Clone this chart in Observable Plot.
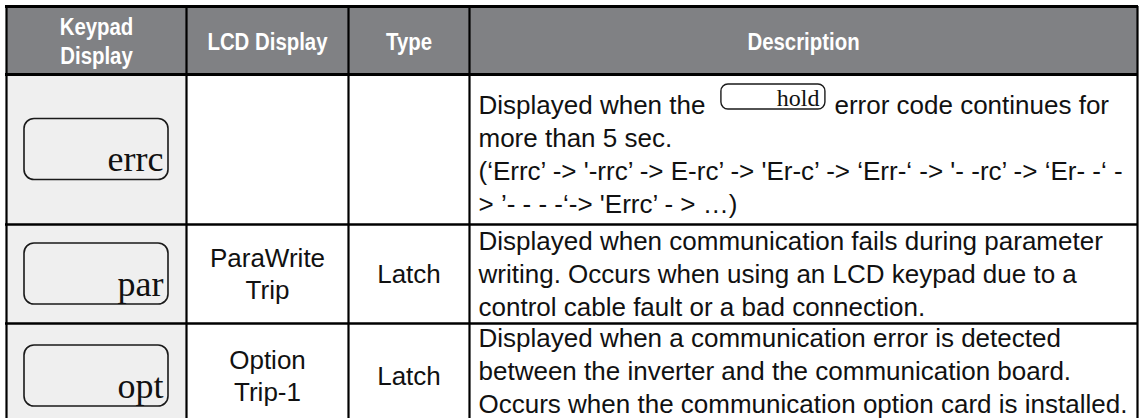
<!DOCTYPE html>
<html>
<head>
<meta charset="utf-8">
<script src="https://cdn.jsdelivr.net/npm/d3@7"></script>
<script src="https://cdn.jsdelivr.net/npm/@observablehq/plot@0.6"></script>
<style>
html, body { margin: 0; padding: 0; background: #ffffff; }
#chart svg { display: block; }
</style>
</head>
<body>
<div id="chart"></div>
<script>
// ---------- table content ----------
const headerLabels = ["Keypad\nDisplay", "LCD Display", "Type", "Description"];
const keypadCodes = ["errc", "par", "opt"];
const lcdDisplay = ["", "ParaWrite\nTrip", "Option\nTrip-1"];
const tripType = ["", "Latch", "Latch"];
const inlineCode = "hold";
const descriptionLines = [
  [
    "Displayed when the {code} error code continues for",
    "more than 5 sec.",
    "(‘Errc’ -> '-rrc’ -> E-rc’ -> 'Er-c’ -> ‘Err-‘ -> '- -rc’ -> ‘Er- -‘ -",
    "> ’- - - -‘-> 'Errc’ - > …)"
  ],
  [
    "Displayed when communication fails during parameter",
    "writing. Occurs when using an LCD keypad due to a",
    "control cable fault or a bad connection."
  ],
  [
    "Displayed when a communication error is detected",
    "between the inverter and the communication board.",
    "Occurs when the communication option card is installed."
  ]
];

// ---------- layout ----------
const W = 1140, H = 418;
const colEdges = [6, 186, 348, 469, 1137];
const headerTop = 6, headerBottom = 74;
const rowEdges = [74, 224, 323, 428];
const descFirstOffset = [39, 25, 23];
const lineStep = 33;
const bodySize = 26;
const headerSqueeze = 0.85;
const sans = `"Liberation Sans", Arial, Helvetica, sans-serif`;
const serif = `"Liberation Serif", "Times New Roman", serif`;
const headerFill = "#808184";
const keyColFill = "#efefef";
const ink = "#111111";

const ctx = document.createElement("canvas").getContext("2d");
ctx.font = `${bodySize}px ${sans}`;
const measure = (s) => ctx.measureText(s).width;

const colMid = (i) => (colEdges[i] + colEdges[i + 1]) / 2;
const rowMid = (r) => (rowEdges[r] + rowEdges[r + 1]) / 2;

// header text lines
const headerText = [];
headerLabels.forEach((lab, i) => {
  const lines = lab.split("\n");
  const n = lines.length, hl = 29, cap = 17;
  const mid = (headerTop + headerBottom) / 2 + 0.5;
  lines.forEach((t, k) => headerText.push({x: colMid(i), y: mid + cap / 2 - (n - 1) * hl / 2 + k * hl, t}));
});

// centered body cells (LCD, Type)
const centerText = [];
function addCentered(label, col, r) {
  if (!label) return;
  const lines = label.split("\n");
  const n = lines.length, hl = 32, cap = 18;
  lines.forEach((t, k) => centerText.push({x: colMid(col), y: rowMid(r) + cap / 2 - (n - 1) * hl / 2 + k * hl, t}));
}
lcdDisplay.forEach((l, r) => addCentered(l, 1, r));
tripType.forEach((l, r) => addCentered(l, 2, r));

// description lines, inline code box
const descX = colEdges[3] + 9;
const descText = [];
const inlineBoxes = [];
const inlineLabels = [];
descriptionLines.forEach((lines, r) => {
  lines.forEach((line, k) => {
    const y = rowEdges[r] + descFirstOffset[r] + k * lineStep;
    if (line.includes("{code}")) {
      const [a, b] = line.split("{code}").map((s) => s.trim());
      descText.push({x: descX, y, t: a});
      const bx1 = descX + measure(a) + 16, bx2 = bx1 + 104;
      const by1 = rowEdges[r] + 10, by2 = rowEdges[r] + 35;
      inlineBoxes.push({x1: bx1, x2: bx2, y1: by1, y2: by2});
      inlineLabels.push({x: bx2 - 6, y: by2 - 4, t: inlineCode});
      descText.push({x: bx2 + 9, y, t: b});
    } else {
      descText.push({x: descX, y, t: line});
    }
  });
});

// keypad display boxes
const keyBoxes = keypadCodes.map((c, r) => ({
  x1: colEdges[0] + 18, x2: colEdges[1] - 18,
  y1: rowMid(r) - 30.5, y2: rowMid(r) + 30.5, code: c
}));

// grid lines
const hLinesThick = [headerTop, headerBottom].map((y) => ({y, x1: colEdges[0] - 1, x2: colEdges[4] + 1}));
const hLinesThin = rowEdges.slice(1, -1).map((y) => ({y, x1: colEdges[0] - 1, x2: colEdges[4] + 1}));
const vLines = colEdges.map((x) => ({x, y1: headerTop, y2: H}));

const plot = Plot.plot({
  width: W, height: H,
  margin: 0,
  x: {type: "identity", axis: null},
  y: {type: "identity", axis: null},
  style: {background: "#ffffff", overflow: "visible"},
  marks: [
    Plot.rect([{x1: colEdges[0], x2: colEdges[4], y1: headerTop, y2: headerBottom}],
      {x1: "x1", x2: "x2", y1: "y1", y2: "y2", fill: headerFill}),
    Plot.rect([{x1: colEdges[0], x2: colEdges[1], y1: headerBottom, y2: H}],
      {x1: "x1", x2: "x2", y1: "y1", y2: "y2", fill: keyColFill}),
    Plot.rect(keyBoxes, {x1: "x1", x2: "x2", y1: "y1", y2: "y2", rx: 10, fill: "none", stroke: "#1a1a1a", strokeWidth: 1.6}),
    Plot.text(keyBoxes, {x: (d) => d.x2 - 5, y: (d) => d.y2 - 9, text: "code", textAnchor: "end", lineAnchor: "bottom",
      fontFamily: serif, fontSize: 36, fill: ink}),
    Plot.rect(inlineBoxes, {x1: "x1", x2: "x2", y1: "y1", y2: "y2", rx: 7, fill: "none", stroke: "#1a1a1a", strokeWidth: 1.4}),
    Plot.text(inlineLabels, {x: "x", y: "y", text: "t", textAnchor: "end", lineAnchor: "bottom",
      fontFamily: serif, fontSize: 24, fill: ink}),
    Plot.text(headerText, {x: "x", y: "y", text: "t", textAnchor: "middle", lineAnchor: "bottom",
      fontFamily: sans, fontWeight: "bold", fontSize: 24, fill: "#ffffff", className: "hdr-text"}),
    Plot.text(centerText, {x: "x", y: "y", text: "t", textAnchor: "middle", lineAnchor: "bottom",
      fontFamily: sans, fontSize: bodySize, fill: ink}),
    Plot.text(descText, {x: "x", y: "y", text: "t", textAnchor: "start", lineAnchor: "bottom",
      fontFamily: sans, fontSize: bodySize, fill: ink, className: "desc-text"}),
    Plot.ruleY(hLinesThick, {y: "y", x1: "x1", x2: "x2", stroke: "#000", strokeWidth: 3}),
    Plot.ruleY(hLinesThin, {y: "y", x1: "x1", x2: "x2", stroke: "#000", strokeWidth: 2.5}),
    Plot.ruleX(vLines, {x: "x", y1: "y1", y2: "y2", stroke: "#000", strokeWidth: 2.2})
  ]
});

document.getElementById("chart").appendChild(plot);

// find the text nodes of a text mark by matching its content
function nodesFor(rows) {
  const all = Array.from(plot.querySelectorAll("text"));
  const used = new Set();
  return rows.map((d) => {
    const node = all.find((n) => !used.has(n) && n.textContent === d.t);
    if (node) used.add(node);
    return node;
  });
}

// condensed look for the bold header labels: scale horizontally about each label's anchor
nodesFor(headerText).forEach((node, i) => {
  if (!node) return;
  const d = headerText[i];
  node.removeAttribute("x");
  node.removeAttribute("y");
  node.setAttribute("transform", `translate(${d.x},${d.y}) scale(${headerSqueeze},1)`);
});

// fit any description line that would run past the right border
const right = colEdges[4] - 5;
nodesFor(descText).forEach((node, i) => {
  if (!node) return;
  const d = descText[i];
  const len = node.getComputedTextLength();
  const maxW = right - d.x;
  if (len > maxW) {
    node.setAttribute("textLength", maxW.toFixed(1));
    node.setAttribute("lengthAdjust", "spacingAndGlyphs");
  }
});
</script>
</body>
</html>
